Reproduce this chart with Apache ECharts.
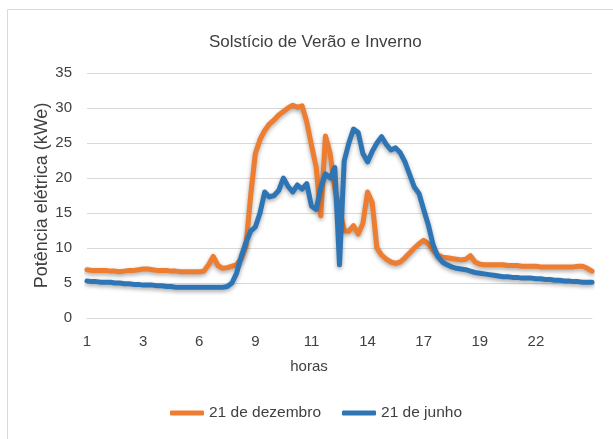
<!DOCTYPE html>
<html>
<head>
<meta charset="utf-8">
<title>Solstício de Verão e Inverno</title>
<script src="https://cdn.jsdelivr.net/npm/echarts@6/dist/echarts.min.js"></script>
<style>
  html, body { margin: 0; padding: 0; background: #fff; }
  #container { width: 613px; height: 439px; }
</style>
</head>
<body>
<div id="container"></div>
<script>
// x轴刻度标签 每12个点显示一个
const tickLabels = ['1', '3', '6', '9', '11', '14', '17', '19', '22']

// 21 de dezembro
const dezembro = [
  6.9, 6.8, 6.8, 6.8, 6.8, 6.7, 6.7, 6.6, 6.7, 6.8,
  6.8, 6.9, 7.0, 7.0, 6.9, 6.8, 6.8, 6.8, 6.7, 6.7,
  6.6, 6.6, 6.6, 6.6, 6.6, 6.7, 7.6, 8.8, 7.5, 7.1,
  7.2, 7.4, 7.6, 8.5, 10.3, 17.5, 23.5, 25.5, 26.8, 27.7,
  28.3, 29.0, 29.5, 30.0, 30.4, 30.1, 30.3, 28.0, 24.7, 21.6,
  14.6, 26.0, 23.5, 18.5, 15.5, 12.5, 12.4, 13.2, 12.0, 13.5,
  18.0, 16.5, 10.0, 9.0, 8.4, 8.0, 7.8, 8.0, 8.6, 9.3,
  10.0, 10.6, 11.1, 10.6, 9.7, 9.0, 8.7, 8.6, 8.5, 8.4,
  8.3, 8.4, 8.9, 8.0, 7.7, 7.6, 7.6, 7.6, 7.6, 7.6,
  7.5, 7.5, 7.5, 7.4, 7.4, 7.4, 7.4, 7.3, 7.3, 7.3,
  7.3, 7.3, 7.3, 7.3, 7.3, 7.4, 7.4, 7.1, 6.7
]

// 21 de junho
const junho = [
  5.3, 5.2, 5.2, 5.1, 5.1, 5.1, 5.0, 5.0, 4.9, 4.9,
  4.8, 4.8, 4.7, 4.7, 4.7, 4.6, 4.6, 4.5, 4.5, 4.4,
  4.4, 4.4, 4.4, 4.4, 4.4, 4.4, 4.4, 4.4, 4.4, 4.4,
  4.5, 5.0, 6.4, 8.8, 10.8, 12.4, 13.0, 15.0, 18.0, 17.3,
  17.5, 18.2, 20.0, 18.8, 18.0, 19.0, 18.4, 19.2, 16.0, 15.5,
  18.6, 20.6, 20.0, 21.5, 7.6, 22.4, 25.0, 27.0, 26.5, 23.5,
  22.3, 23.8, 25.0, 25.9, 24.8, 24.0, 24.3, 23.6, 22.3, 20.5,
  18.7, 17.8, 15.5, 13.3, 10.5, 8.8, 8.0, 7.6, 7.3, 7.1,
  7.0, 6.9, 6.7, 6.5, 6.4, 6.3, 6.2, 6.1, 6.0, 5.9,
  5.9, 5.8, 5.8, 5.7, 5.7, 5.7, 5.6, 5.6, 5.5, 5.5,
  5.4, 5.4, 5.3, 5.3, 5.2, 5.2, 5.1, 5.1, 5.1
]

// 类目就是采样点序号
const categories = dezembro.map((v, i) => i)

const fontFamily = "'Liberation Sans', Arial, sans-serif"
const textColor = '#404040'
const lineShadow = {
  shadowColor: 'rgba(0,0,0,0.35)',
  shadowBlur: 4,
  shadowOffsetY: 2
}

const myChart = echarts.init(document.getElementById('container'))

const option = {
  animation: false,
  backgroundColor: '#fff',
  title: {
    text: 'Solstício de Verão e Inverno',
    left: 209,
    top: 34,
    padding: 0,
    textStyle: {
      fontFamily: fontFamily,
      fontSize: 17,
      fontWeight: 'normal',
      color: textColor
    }
  },
  legend: {
    data: ['21 de dezembro', '21 de junho'],
    left: 170,
    top: 405,
    padding: 0,
    icon: 'roundRect',
    itemWidth: 34,
    itemHeight: 5,
    itemGap: 21,
    textStyle: {
      fontFamily: fontFamily,
      fontSize: 15.5,
      color: textColor
    }
  },
  grid: {
    left: 87,
    right: 21,
    top: 73,
    bottom: 121
  },
  xAxis: {
    type: 'category',
    boundaryGap: false,
    data: categories,
    axisLine: { lineStyle: { color: '#d9d9d9', width: 1 } },
    axisTick: { show: false },
    axisLabel: {
      interval: 11,
      margin: 16,
      fontFamily: fontFamily,
      fontSize: 15,
      color: textColor,
      formatter: (value, index) => tickLabels[index / 12] || ''
    },
    splitLine: { show: false }
  },
  yAxis: {
    type: 'value',
    min: 0,
    max: 35,
    interval: 5,
    name: 'Potência elétrica (kWe)',
    nameLocation: 'middle',
    nameGap: 36,
    nameMoveOverlap: false,
    nameTextStyle: {
      fontFamily: fontFamily,
      fontSize: 18,
      color: textColor
    },
    axisLine: { show: false },
    axisTick: { show: false },
    axisLabel: {
      margin: 15,
      fontFamily: fontFamily,
      fontSize: 15,
      color: textColor
    },
    splitLine: { lineStyle: { color: '#d9d9d9', width: 1 } }
  },
  graphic: [
    {
      // 图表外框
      type: 'rect',
      silent: true,
      z: -1,
      shape: { x: 7.5, y: 9.5, width: 800, height: 600 },
      style: { fill: 'none', stroke: '#d9d9d9', lineWidth: 1 }
    },
    {
      // x轴名称
      type: 'text',
      x: 309,
      y: 367,
      silent: true,
      style: {
        text: 'horas',
        align: 'center',
        verticalAlign: 'middle',
        font: "15px 'Liberation Sans', Arial, sans-serif",
        fill: textColor
      }
    }
  ],
  series: [
    {
      name: '21 de dezembro',
      type: 'line',
      data: dezembro,
      showSymbol: false,
      symbol: 'none',
      color: '#ED7D31',
      lineStyle: Object.assign({ width: 5, color: '#ED7D31', cap: 'round', join: 'round' }, lineShadow)
    },
    {
      name: '21 de junho',
      type: 'line',
      data: junho,
      showSymbol: false,
      symbol: 'none',
      color: '#2E75B6',
      lineStyle: Object.assign({ width: 5, color: '#2E75B6', cap: 'round', join: 'round' }, lineShadow)
    }
  ]
}

myChart.setOption(option)
</script>
</body>
</html>
